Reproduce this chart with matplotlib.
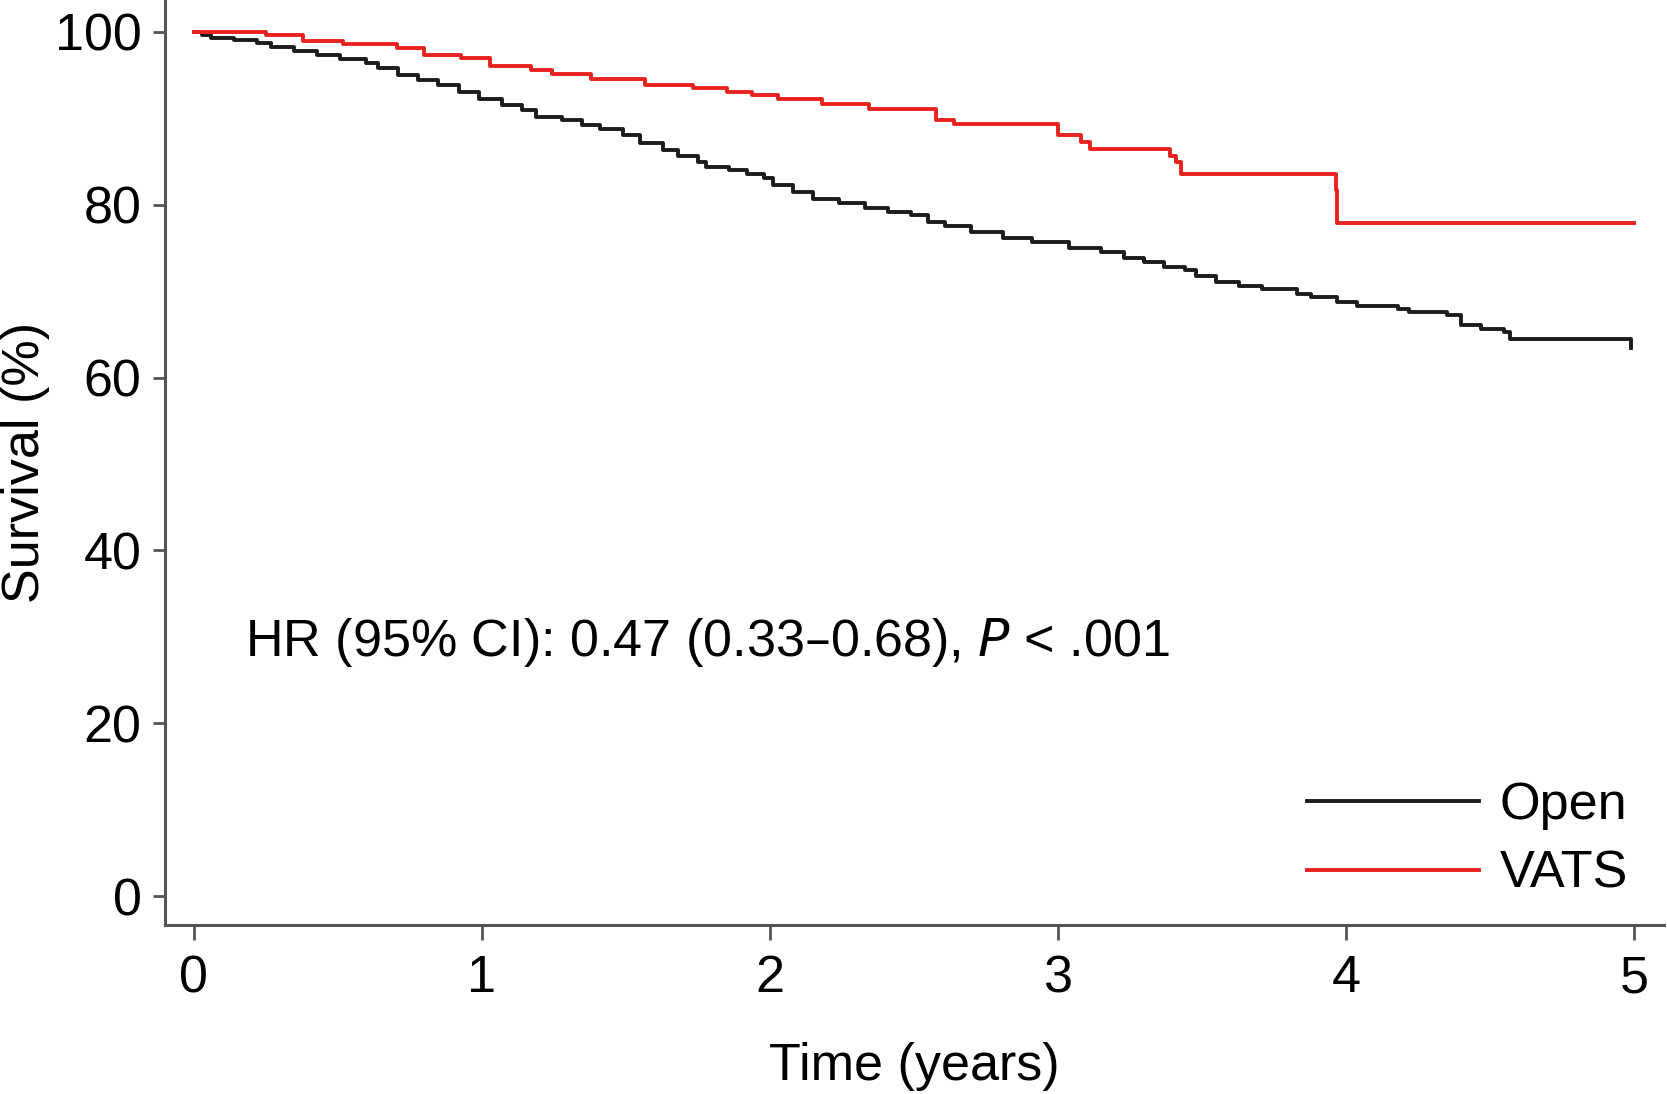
import numpy as np
import matplotlib
matplotlib.use('Agg')
from matplotlib import pyplot as plt

plt.rcParams['font.family'] = ['Liberation Sans', 'DejaVu Sans']

# Kaplan-Meier estimates (time in years, survival in %)
open_time = [0, 0.03, 0.06, 0.14, 0.22, 0.27, 0.35, 0.43, 0.51, 0.60, 0.64,
             0.71, 0.78, 0.85, 0.92, 0.99, 1.07, 1.14, 1.19, 1.28, 1.35,
             1.41, 1.49, 1.55, 1.63, 1.68, 1.75, 1.78, 1.86, 1.92, 1.98,
             2.01, 2.08, 2.15, 2.24, 2.33, 2.41, 2.49, 2.55, 2.61, 2.70,
             2.81, 2.91, 3.04, 3.15, 3.23, 3.30, 3.37, 3.44, 3.48, 3.55,
             3.63, 3.71, 3.83, 3.88, 3.97, 4.04, 4.18, 4.22, 4.35, 4.40,
             4.47, 4.55, 4.57, 4.99]
open_surv = [100, 99.6, 99.3, 99.1, 98.7, 98.3, 97.8, 97.3, 96.9, 96.4, 95.8,
             95.0, 94.4, 93.9, 93.1, 92.3, 91.5, 91.0, 90.2, 89.8, 89.2,
             88.8, 88.1, 87.1, 86.3, 85.6, 85.0, 84.4, 84.0, 83.6, 83.1,
             82.3, 81.5, 80.7, 80.2, 79.6, 79.2, 78.8, 78.0, 77.5, 76.8,
             76.2, 75.7, 75.0, 74.5, 73.8, 73.4, 72.8, 72.4, 71.8, 71.1,
             70.6, 70.2, 69.7, 69.3, 68.8, 68.3, 67.9, 67.6, 67.2, 66.1,
             65.6, 65.3, 64.5, 63.4]

vats_time = [0, 0.25, 0.38, 0.52, 0.705, 0.80, 0.93, 1.03, 1.17, 1.245,
             1.38, 1.567, 1.735, 1.85, 1.94, 2.03, 2.18, 2.345, 2.577, 2.64,
             3.00, 3.08, 3.11, 3.39, 3.41, 3.427, 3.965, 3.97, 5.0]
vats_surv = [100, 99.65, 98.95, 98.6, 98.1, 97.3, 96.95, 96.1, 95.6, 95.1,
             94.6, 93.9, 93.5, 93.1, 92.7, 92.2, 91.7, 91.05, 89.8, 89.3,
             88.1, 87.3, 86.5, 85.6, 84.9, 83.6, 81.7, 77.9, 77.9]

x_ticks = [0, 1, 2, 3, 4, 5]
y_ticks = [0, 20, 40, 60, 80, 100]
hr_text = 'HR (95% CI): 0.47 (0.33\u20130.68), $\\mathit{P}$ < .001'

fs = 37.5
W, H = 1667, 1094
fig = plt.figure(figsize=(W / 100, H / 100), dpi=100)
ax = fig.add_axes([165 / W, 1 - 925 / H, (1664 - 165) / W, 925 / H])

ax.plot(open_time, open_surv, drawstyle='steps-post', color='#1c1c1c', lw=2.8, label='Open')
ax.plot(vats_time, vats_surv, drawstyle='steps-post', color='#e8231f', lw=2.8, label='VATS')

ax.set_xlim(-0.099, 5.104)
ax.set_ylim(-3.35, 103.7)
ax.set_xticks(x_ticks)
ax.set_yticks(y_ticks)

for side in ['top', 'right']:
    ax.spines[side].set_visible(False)
for side in ['left', 'bottom']:
    ax.spines[side].set_color('#555555')
    ax.spines[side].set_linewidth(2.2)

ax.tick_params(axis='x', length=11, width=2, color='#555555', pad=10, labelsize=fs)
ax.tick_params(axis='y', length=9, width=2, color='#555555', pad=8, labelsize=fs)

ax.set_xlabel('Time (years)', fontsize=fs, labelpad=28)
ax.set_ylabel('Survival (%)', fontsize=fs, labelpad=3)

ax.text(0.18, 29.3, hr_text, fontsize=fs, va='center', ha='left')

ax.legend(loc='upper left', bbox_to_anchor=(1307 / W, 1 - 781 / H),
          bbox_transform=fig.transFigure, frameon=False, fontsize=fs,
          handlelength=3.3, handletextpad=0.4, labelspacing=0.38,
          borderpad=0, borderaxespad=0)

fig.savefig('out.png', dpi=100)
